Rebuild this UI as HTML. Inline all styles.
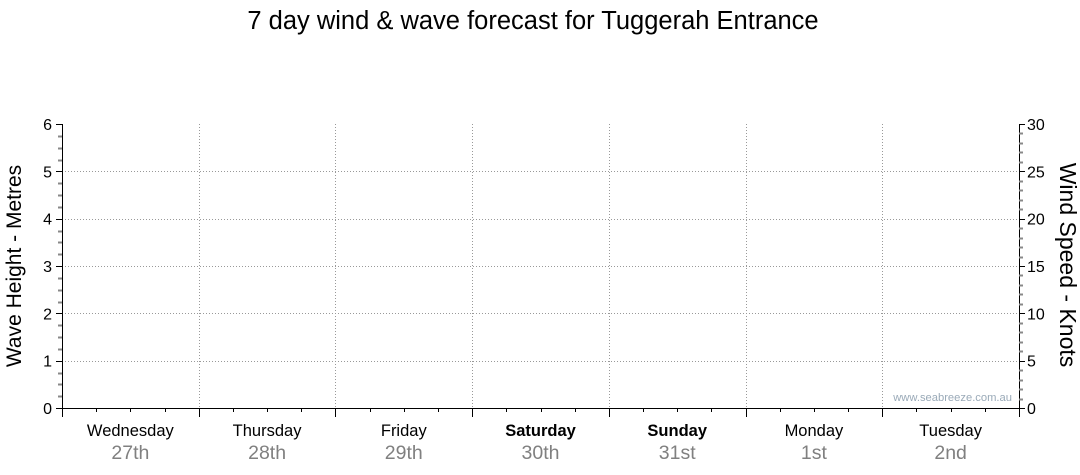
<!DOCTYPE html>
<html><head><meta charset="utf-8"><style>
body{margin:0;background:#fff;}
svg{display:block;font-family:"Liberation Sans",sans-serif;}
</style></head><body>
<svg id="c" width="1080" height="475">
<text x="533" y="29" text-anchor="middle" font-size="25.5" fill="#000">7 day wind &amp; wave forecast for Tuggerah Entrance</text>
<text transform="translate(21,266) rotate(-90)" text-anchor="middle" font-size="21">Wave Height - Metres</text>
<text transform="translate(1060,265) rotate(90)" text-anchor="middle" font-size="23">Wind Speed - Knots</text>
<text x="1012" y="401" text-anchor="end" font-size="11.2" fill="#9aaab8">www.seabreeze.com.au</text>
</svg>
<script>
const days=["Wednesday","Thursday","Friday","Saturday","Sunday","Monday","Tuesday"];
const dates=["27th","28th","29th","30th","31st","1st","2nd"];
const boldDays=[false,false,false,true,true,false,false];
const waveTicks=[0,1,2,3,4,5,6];
const windTicks=[0,5,10,15,20,25,30];
const svg=document.getElementById('c');
const NS='http://www.w3.org/2000/svg';
const X0=62,X1=1019,Y0=408,Y1=124;
const yWave=v=>Y0-(v/6)*(Y0-Y1);
const yWind=v=>Y0-(v/30)*(Y0-Y1);
const dayW=(X1-X0)/days.length;
const xDay=i=>X0+i*dayW;
function mk(tag,attrs,name){const e=document.createElementNS(NS,tag);for(const k in attrs)e.setAttribute(k,attrs[k]);


svg.appendChild(e);return e;}
waveTicks.forEach(v=>{if(v>0&&v<6){mk('line',{x1:X0,x2:X1,y1:Math.round(yWave(v))+0.5,y2:Math.round(yWave(v))+0.5,stroke:'#999','stroke-dasharray':'1,2'},'h-gridline');}});
for(let i=1;i<days.length;i++){const x=Math.round(xDay(i))+0.5;mk('line',{x1:x,x2:x,y1:Y1,y2:Y0,stroke:'#999','stroke-dasharray':'1,2'},'day-gridline');}
mk('line',{x1:X0+0.5,x2:X0+0.5,y1:Y1,y2:Y0,stroke:'#000'},'left-axis');
mk('line',{x1:X1+0.5,x2:X1+0.5,y1:Y1,y2:Y0,stroke:'#000'},'right-axis');
mk('line',{x1:X0,x2:X1,y1:Y0+0.5,y2:Y0+0.5,stroke:'#000'},'x-axis');
for(let q=0;q<=24;q++){const v=q/4,y=Math.round(yWave(v))+0.5;const major=q%4==0;
mk('line',{x1:major?X0-6:X0-4,x2:X0,y1:y,y2:y,stroke:major?'#000':'#888','stroke-width':major?1:2},'left-tick');}
waveTicks.forEach(v=>{const t=mk('text',{x:X0-10,y:yWave(v)+6,'text-anchor':'end','font-size':16},'left-tick-label');t.textContent=v;});
for(let k=0;k<=30;k++){const y=Math.round(yWind(k))+0.5;const major=k%5==0;
mk('line',{x1:X1,x2:X1+(major?6:4),y1:y,y2:y,stroke:major?'#000':'#888','stroke-width':major?1:2},'right-tick');}
windTicks.forEach(v=>{const t=mk('text',{x:X1+8,y:yWind(v)+6,'font-size':16},'right-tick-label');t.textContent=v;});
for(let i=0;i<days.length;i++){for(let j=0;j<4;j++){const x=Math.round(xDay(i)+j*dayW/4)+0.5;
mk('line',{x1:x,x2:x,y1:Y0,y2:j==0?Y0+9:Y0+4,stroke:'#000'},'x-tick');}
const cx=xDay(i)+dayW/2;
const t=mk('text',{x:cx,y:436,'text-anchor':'middle','font-size':16.5,'font-weight':boldDays[i]?'bold':'normal'},'day-label');t.textContent=days[i];
const d=mk('text',{x:cx,y:459,'text-anchor':'middle','font-size':19.5,fill:'#808080'},'date-label');d.textContent=dates[i];}
mk('line',{x1:X1+0.5,x2:X1+0.5,y1:Y0,y2:Y0+9,stroke:'#000'},'x-tick');
</script>
</body></html>
